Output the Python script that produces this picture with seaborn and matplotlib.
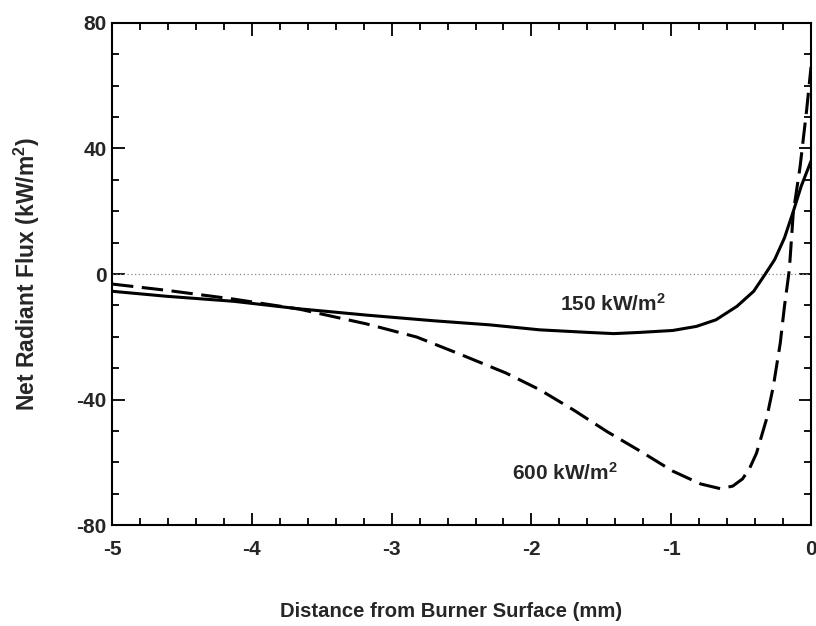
import numpy as np
import pandas as pd
import matplotlib
matplotlib.use("Agg")
import matplotlib.pyplot as plt
import seaborn as sns
from matplotlib.ticker import MultipleLocator

# Data
x_150 = [-5.0, -4.61, -4.13, -3.66, -3.18, -2.70, -2.30, -1.94, -1.60, -1.41,
         -1.22, -0.99, -0.82, -0.68, -0.53, -0.41, -0.33, -0.26, -0.19, -0.13,
         -0.07, 0.0]
y_150 = [-5.5, -7.1, -8.7, -11.1, -13.1, -14.9, -16.2, -17.8, -18.6, -19.0,
         -18.6, -18.0, -16.7, -14.6, -10.3, -5.5, -0.2, 4.6, 11.5, 19.5,
         28.0, 36.0]

x_600 = [-5.0, -4.61, -4.13, -3.66, -3.18, -2.82, -2.52, -2.18, -1.94, -1.70,
         -1.46, -1.22, -0.99, -0.79, -0.65, -0.56, -0.49, -0.44, -0.39, -0.32,
         -0.27, -0.22, -0.19, -0.155, -0.127, -0.078, -0.031, 0.0]
y_600 = [-3.2, -5.2, -8.0, -11.2, -15.9, -20.1, -25.4, -31.6, -36.9, -43.3,
         -50.2, -56.5, -62.8, -66.9, -68.4, -67.6, -65.3, -62.0, -57.1, -46.5,
         -35.9, -22.0, -10.3, 1.4, 19.5, 34.3, 52.4, 66.0]

series_names = ["150 kW/m$^2$", "600 kW/m$^2$"]
x_ticks = [-5, -4, -3, -2, -1, 0]
y_ticks = [-80, -40, 0, 40, 80]

df = pd.concat([
    pd.DataFrame({"x": x_150, "y": y_150, "series": series_names[0]}),
    pd.DataFrame({"x": x_600, "y": y_600, "series": series_names[1]}),
])

sns.set_theme(style="ticks")
plt.rcParams["font.family"] = ["Liberation Sans", "DejaVu Sans"]
plt.rcParams["font.weight"] = "bold"
plt.rcParams["mathtext.fontset"] = "custom"
plt.rcParams["mathtext.rm"] = "Liberation Sans:bold"
plt.rcParams["mathtext.bf"] = "Liberation Sans:bold"
plt.rcParams["mathtext.it"] = "Liberation Sans:bold"
plt.rcParams["mathtext.default"] = "bf"

fig = plt.figure(figsize=(8.16, 6.26), dpi=100)
ax = fig.add_axes([0.1373, 0.1613, 0.8566, 0.802])

lw = 2.2
sns.lineplot(data=df, x="x", y="y", hue="series", style="series",
             palette=["black", "black"],
             dashes={series_names[0]: "", series_names[1]: (7.0, 2.8)},
             linewidth=lw, legend=False, ax=ax, sort=False, estimator=None)

ax.axhline(0, color="#888888", lw=0.9, ls=(0, (1, 2)), zorder=1)

ax.set_xlim(-5, 0)
ax.set_ylim(-80, 80)
ax.set_xticks(x_ticks)
ax.set_yticks(y_ticks)
ax.set_xticklabels([str(t) for t in x_ticks])
ax.set_yticklabels([str(t) for t in y_ticks])
ax.xaxis.set_minor_locator(MultipleLocator(0.2))
ax.yaxis.set_minor_locator(MultipleLocator(10))
ax.tick_params(which="both", direction="in", top=True, right=True,
               width=1.3, color="black")
ax.tick_params(which="major", length=9)
ax.tick_params(which="minor", length=5)
ax.tick_params(axis="x", which="major", labelsize=15, pad=11)
ax.tick_params(axis="y", which="major", labelsize=15, pad=4)
for lab in ax.get_xticklabels() + ax.get_yticklabels():
    lab.set_fontweight("bold")
for sp in ax.spines.values():
    sp.set_linewidth(1.5)
    sp.set_color("black")

ax.set_xlabel("Distance from Burner Surface (mm)", fontsize=14.6, fontweight="bold")
ax.set_ylabel("Net Radiant Flux (kW/m$^2$)", fontsize=16.5, fontweight="bold")
ax.xaxis.set_label_coords(0.485, -0.153)
ax.yaxis.set_label_coords(-0.1, 0.5)

ax.text(-1.795, -11.7, series_names[0], fontsize=15, fontweight="bold",
        ha="left", va="baseline")
ax.text(-2.141, -65.6, series_names[1], fontsize=15, fontweight="bold",
        ha="left", va="baseline")

fig.savefig("out.png", dpi=100)
